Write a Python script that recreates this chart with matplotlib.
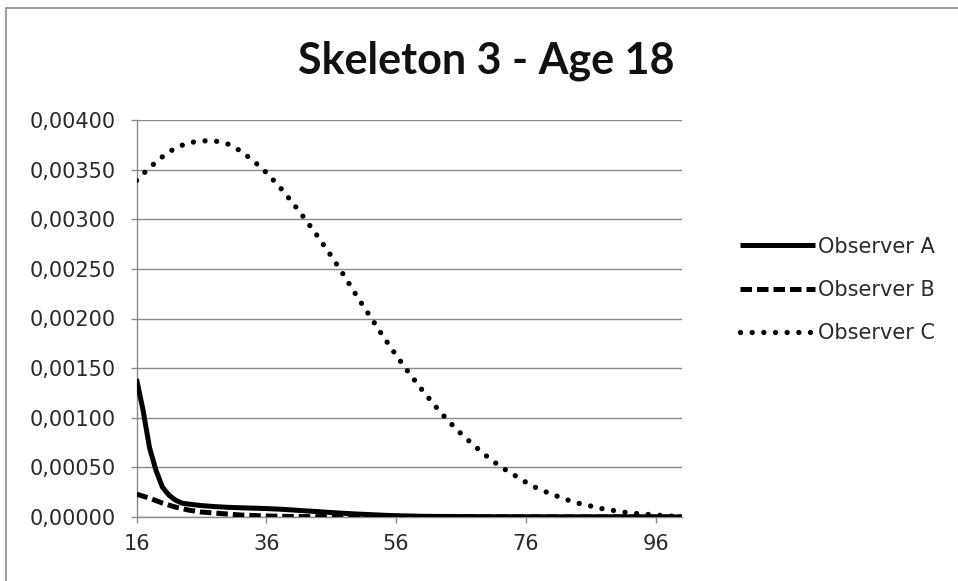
import matplotlib
matplotlib.use("Agg")
import matplotlib.pyplot as plt
from matplotlib.ticker import FuncFormatter, MultipleLocator
from matplotlib.patches import Rectangle

title = "Skeleton 3 - Age 18"
series_names = ["Observer A", "Observer B", "Observer C"]

ages_a = [16, 17, 18, 19, 20, 21, 22, 23, 24, 26, 28, 30, 32, 34, 36, 38, 40, 42, 44, 46, 48, 50, 55, 60, 70, 80, 90, 100]
obs_a = [0.00139, 0.00108, 0.00070, 0.00047, 0.00030, 0.00022, 0.00017, 0.00014, 0.00013, 0.000115, 0.000105,
         0.000098, 0.000093, 0.000089, 0.000085, 0.000079, 0.000071, 0.000062, 0.000054, 0.000045, 0.000037,
         0.00003, 0.000015, 0.000007, 0.000003, 0.000002, 0.000002, 0.000001]

ages_b = [16, 18, 20, 22, 24, 26, 28, 30, 32, 36, 40, 50, 60, 80, 100]
obs_b = [0.00023, 0.00019, 0.00014, 0.00010, 0.00007, 0.00005, 0.00004, 0.00003, 0.00002, 0.00001,
         0.000005, 0.000002, 0.000001, 0.0, 0.0]

ages_c = [16, 18, 20, 22, 24, 26, 28, 30, 32, 34, 36, 38, 40, 42, 44, 46, 48, 50, 52, 54, 56, 58,
          60, 62, 64, 66, 68, 70, 72, 74, 76, 78, 80, 82, 84, 86, 88, 90, 92, 94, 96, 98, 100]
obs_c = [0.00339, 0.00352, 0.00363, 0.00372, 0.00377, 0.00379, 0.00379, 0.00376, 0.00369, 0.00359,
         0.00347, 0.00333, 0.00317, 0.00300, 0.00282, 0.00263, 0.00243, 0.00222, 0.00202, 0.00182,
         0.00163, 0.00145, 0.00128, 0.00112, 0.00097, 0.00084, 0.00072, 0.00061, 0.00051, 0.00043,
         0.00035, 0.00028, 0.00023, 0.00018, 0.00014, 0.00011, 0.00008, 0.00006, 0.00004, 0.00003,
         0.00002, 0.00001, 0.000005]

x_ticks = [16, 36, 56, 76, 96]

plt.rcParams['font.family'] = ['DejaVu Sans']

fig = plt.figure(figsize=(9.58, 5.81), dpi=100)
fig.patches.append(Rectangle((6 / 958, -0.1), 1.2, (581 - 7.5) / 581 + 0.1, transform=fig.transFigure,
                             fill=False, edgecolor='#8c8c8c', linewidth=1.2, zorder=0))

ax = fig.add_axes([136.5 / 958, 64 / 581, (681.7 - 136.5) / 958, 397 / 581])

ax.plot(ages_a, obs_a, color='black', lw=3.6, solid_capstyle='butt', label=series_names[0], zorder=3)
ax.plot(ages_b, obs_b, color='black', lw=3.6, dashes=(2.3, 1.0), dash_capstyle='butt', label=series_names[1], zorder=3)
ax.plot(ages_c, obs_c, color='black', lw=3.8, dashes=(0.01, 2.2), dash_capstyle='round', label=series_names[2], zorder=3)

ax.set_xlim(16, 100)
ax.set_ylim(0, 0.004)
ax.set_xticks(x_ticks)
ax.yaxis.set_major_locator(MultipleLocator(0.0005))
ax.yaxis.set_major_formatter(FuncFormatter(lambda v, p: f"{v:.5f}".replace('.', ',')))
ax.grid(axis='y', color='#8a8a8a', lw=1.0)
ax.set_axisbelow(True)
for s in ['top', 'right']:
    ax.spines[s].set_visible(False)
for s in ['left', 'bottom']:
    ax.spines[s].set_color('#8a8a8a')
    ax.spines[s].set_linewidth(1.0)
ax.tick_params(axis='both', colors='#8a8a8a', labelcolor='#2a2a2a', labelsize=15, length=4, width=1.0)
ax.tick_params(axis='x', pad=8)
ax.tick_params(axis='y', pad=11)

fig.text(486 / 958, (581 - 61) / 581, title, ha='center', va='center', fontsize=31, fontweight='bold',
         color='#111111', family=['Lato', 'DejaVu Sans'])

leg = ax.legend(loc='center left', bbox_to_anchor=(740 / 958, (581 - 290) / 581), bbox_transform=fig.transFigure,
                frameon=False, fontsize=15, handlelength=3.6, handletextpad=0.15, labelspacing=1.12,
                borderpad=0, borderaxespad=0)
for t in leg.get_texts():
    t.set_color('#2a2a2a')

fig.savefig("out.png", dpi=100)
